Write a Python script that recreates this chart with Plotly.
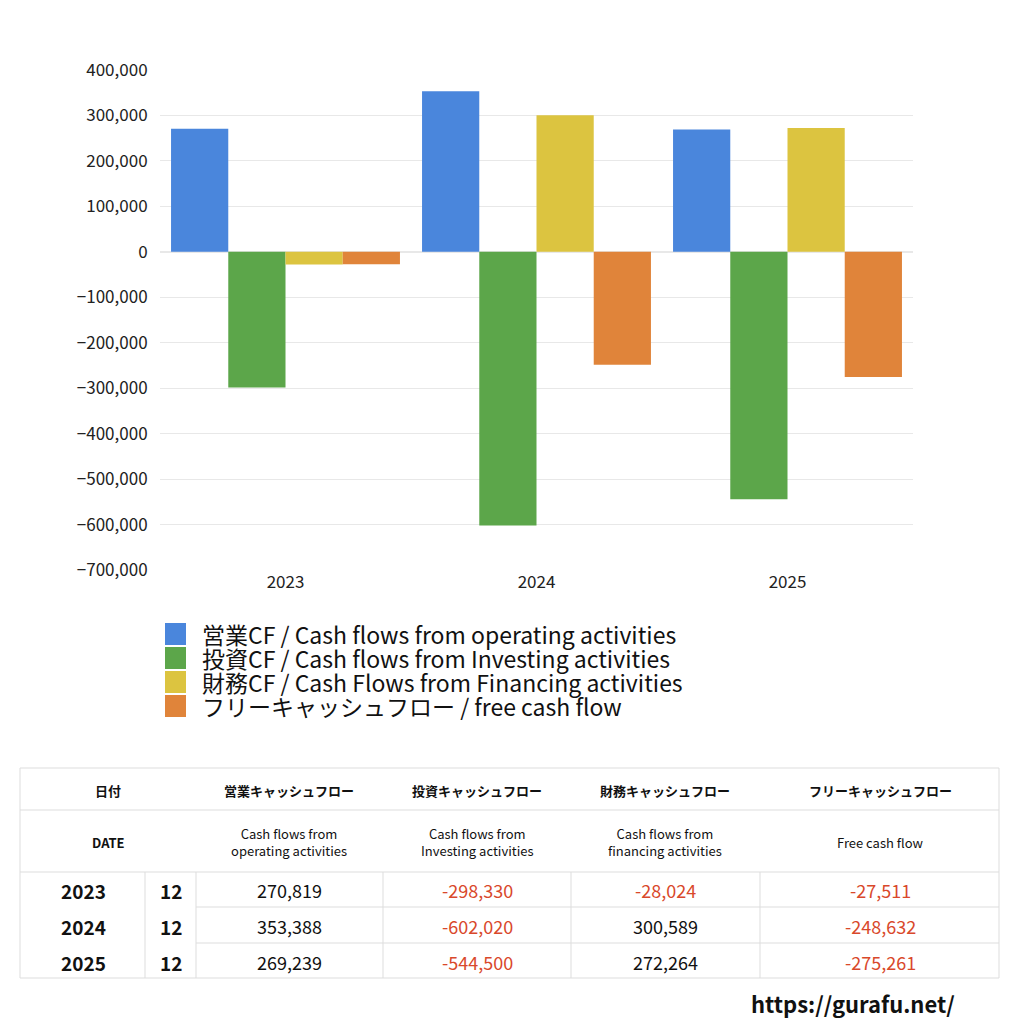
import plotly.graph_objects as go

years = ["2023", "2024", "2025"]
months = ["12", "12", "12"]
operating = [270819, 353388, 269239]
investing = [-298330, -602020, -544500]
financing = [-28024, 300589, 272264]
free_cf = [-27511, -248632, -275261]

legend_labels = [
    "営業CF / Cash flows from operating activities",
    "投資CF / Cash flows from Investing activities",
    "財務CF / Cash Flows from Financing activities",
    "フリーキャッシュフロー / free cash flow",
]
colors = ["#4a86dc", "#5ca64a", "#dcc440", "#e0843a"]
tick_vals = list(range(-700000, 400001, 100000))

W = 1024.0
OFF = 8  # page margin of the browser body
def px(x): return (x - OFF) / W
def py(y): return 1 - (y - OFF) / W

fig = go.Figure()
for vals, name, c in zip([operating, investing, financing, free_cf], legend_labels, colors):
    fig.add_trace(go.Bar(x=years, y=vals, name=name, marker=dict(color=c, line=dict(width=0))))

shapes, annos = [], []
# manual legend
for i, (lab, c) in enumerate(zip(legend_labels, colors)):
    yc = 634 + i * 24
    shapes.append(dict(type="rect", xref="paper", yref="paper", x0=px(165), x1=px(186),
                       y0=py(yc - 11), y1=py(yc + 11), fillcolor=c, line=dict(width=0)))
    annos.append(dict(xref="paper", yref="paper", x=px(200), y=py(yc), text=lab, showarrow=False,
                      xanchor="left", yanchor="middle", font=dict(size=23, color="#111",
                                                               family="Noto Sans CJK JP, sans-serif")))

# table grid
lc = "#dddddd"
def line(x0, y0, x1, y1):
    shapes.append(dict(type="line", xref="paper", yref="paper", x0=px(x0), y0=py(y0),
                       x1=px(x1), y1=py(y1), line=dict(color=lc, width=1)))
shapes.append(dict(type="rect", xref="paper", yref="paper", x0=px(20), x1=px(999),
                   y0=py(768), y1=py(978), line=dict(color=lc, width=1)))
line(20, 810, 999, 810)
line(20, 872, 999, 872)
line(196, 907, 999, 907)
line(196, 943, 999, 943)
for xv in [145, 196, 383, 571, 760]:
    line(xv, 872, xv, 978)

def txt(x, y, t, size=13, color="#111", bold=False):
    annos.append(dict(xref="paper", yref="paper", x=px(x), y=py(y), showarrow=False,
                      text=f"<b>{t}</b>" if bold else t, font=dict(size=size, color=color),
                      xanchor="center", yanchor="middle"))

heads_jp = ["営業キャッシュフロー", "投資キャッシュフロー", "財務キャッシュフロー", "フリーキャッシュフロー"]
heads_en = ["Cash flows from<br>operating activities", "Cash flows from<br>Investing activities",
            "Cash flows from<br>financing activities", "Free cash flow"]
col_x = [289, 477, 665, 880]
txt(108, 790, "日付", bold=True)
txt(108, 842, "DATE", bold=True)
for cx, hj, he in zip(col_x, heads_jp, heads_en):
    txt(cx, 790, hj, bold=True)
    txt(cx, 842, he, size=13)

for r, (yr, m) in enumerate(zip(years, months)):
    yc = 890 + r * 36
    txt(83, yc, yr, size=19, bold=True)
    txt(171, yc, m, size=19, bold=True)
    for cx, series in zip(col_x, [operating, investing, financing, free_cf]):
        v = series[r]
        txt(cx, yc, f"{v:,}", size=18, color="#d9482b" if v < 0 else "#111")

annos.append(dict(xref="paper", yref="paper", x=px(853), y=py(1003), showarrow=False,
                  text="<b>https://gurafu.net/</b>", font=dict(size=22, color="#111"),
                  xanchor="center", yanchor="middle"))

fig.update_layout(
    width=1024, height=1024, margin=dict(l=0, r=0, t=0, b=0),
    paper_bgcolor="white", plot_bgcolor="white",
    font=dict(family="Noto Sans CJK JP, sans-serif", color="#111"),
    barmode="group", bargap=0.088, bargroupgap=0, showlegend=False,
    xaxis=dict(domain=[px(160), px(913)], tickfont=dict(size=17, color="#222"), ticks="",
               showline=False, automargin=False),
    yaxis=dict(domain=[py(570), py(70)], range=[-700000, 400000], tickvals=tick_vals,
               tickformat=",", tickfont=dict(size=17, color="#222"), gridcolor="#e8e8e8",
               zeroline=True, zerolinecolor="#e8e8e8", ticks="outside", ticklen=8,
               tickcolor="white", automargin=False),
    shapes=shapes, annotations=annos,
)
fig.write_html("out.html")
